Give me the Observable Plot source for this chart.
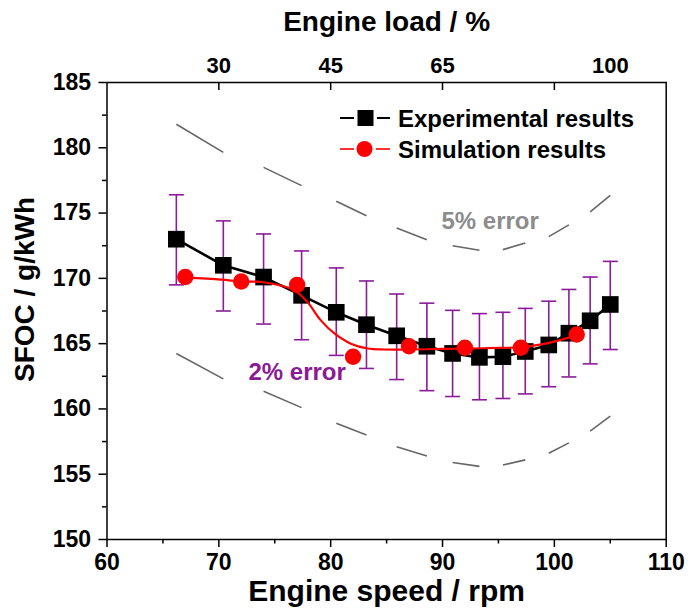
<!DOCTYPE html>
<html><head><meta charset="utf-8">
<script src="https://cdn.jsdelivr.net/npm/d3@7"></script>
<script src="https://cdn.jsdelivr.net/npm/@observablehq/plot@0.6"></script>
<style>body{margin:0;background:#fff} #chart svg{display:block}</style>
</head><body><div id="chart"></div>
<script>
// ---- data ----
const expSpeed   = [66.2, 70.4, 74.0, 77.4, 80.5, 83.2, 85.9, 88.6, 90.9, 93.3, 95.4, 97.4, 99.5, 101.3, 103.2, 105.0];
const expSFOC    = [173.0, 171.0, 170.1, 168.7, 167.4, 166.45, 165.6, 164.8, 164.25, 163.95, 164.0, 164.4, 164.9, 165.8, 166.75, 168.0];
const expErrLow  = [169.5, 167.5, 166.5, 165.3, 164.1, 163.1, 162.25, 161.4, 160.95, 160.7, 160.8, 161.15, 161.7, 162.45, 163.45, 164.55];
const expErrHigh = [176.4, 174.4, 173.4, 172.1, 170.8, 169.8, 168.8, 168.1, 167.55, 167.3, 167.4, 167.7, 168.25, 169.15, 170.1, 171.3];

const simSpeed = [67, 72, 77, 82, 87, 92, 97, 102];
const simSFOC  = [170.1, 169.76, 169.5, 164.0, 164.8, 164.68, 164.68, 165.7];

const simFitSpeed = [67, 70.2, 72, 74, 76.7, 77.9, 79.1, 80.3, 81.8, 83.3, 84.8, 87, 90, 92, 95, 97, 99.7, 102];
const simFitSFOC  = [170.05, 169.9, 169.76, 169.7, 169.1, 168.2, 166.8, 165.8, 165.0, 164.63, 164.55, 164.55, 164.6, 164.62, 164.68, 164.72, 165.1, 165.65];

const band5Upper = [181.8, 179.65, 178.5, 177.1, 175.9, 174.8, 173.85, 172.95, 172.5, 172.15, 172.2, 172.7, 173.2, 174.1, 175.1, 176.35];
const band5Lower = [164.25, 162.3, 161.35, 160.1, 158.9, 158.0, 157.1, 156.4, 155.9, 155.6, 155.7, 156.1, 156.6, 157.4, 158.3, 159.45];

const xTicks = [60, 70, 80, 90, 100, 110];
const xMinorTicks = [65, 75, 85, 95, 105];
const yTicks = [150, 155, 160, 165, 170, 175, 180, 185];
const yMinorTicks = [152.5, 157.5, 162.5, 167.5, 172.5, 177.5, 182.5];

const loadTickSpeeds = [70, 80, 90, 100];
const loadLabelSpeeds = [70, 80, 90, 105];
const loadLabels = ["30", "45", "65", "100"];

const noteText  = ["5% error", "2% error"];
const noteSpeed = [94.26, 77.0];
const noteSFOC  = [174.38, 162.81];
const noteColor = ["#8c8c8c", "#8a1a96"];

const legendLabels = ["Experimental results", "Simulation results"];

// ---- build tables ----
const exp = expSpeed.map((x, i) => ({x, y: expSFOC[i], lo: expErrLow[i], hi: expErrHigh[i]}));
const sim = simSpeed.map((x, i) => ({x, y: simSFOC[i]}));
const fit = simFitSpeed.map((x, i) => ({x, y: simFitSFOC[i]}));
const bandSegs = expSpeed.slice(0, -1).map((x, i) => ({
  x1: x, x2: expSpeed[i + 1],
  u1: band5Upper[i], u2: band5Upper[i + 1],
  l1: band5Lower[i], l2: band5Lower[i + 1]
})).filter((d, i) => i % 2 === 0);
const notes = noteText.map((t, i) => ({t, x: noteSpeed[i], y: noteSFOC[i], c: noteColor[i]}));
const loadLabelMap = new Map(loadLabelSpeeds.map((s, i) => [s, loadLabels[i]]));

const purple = "#8a1c99";
const FONT = "'Liberation Sans', Arial, Helvetica, sans-serif";
const capSymbol = {draw(ctx, size) { const w = Math.sqrt(size / Math.PI); ctx.moveTo(-w, 0); ctx.lineTo(w, 0); }};

const W = 688, H = 611, mL = 106.5, mR = 22.3, mT = 82, mB = 72;
const frameH = H - mT - mB;

const chart = Plot.plot({
  width: W, height: H,
  marginLeft: mL, marginRight: mR, marginTop: mT, marginBottom: mB,
  style: {fontFamily: FONT, fontWeight: "bold", fontSize: "23px", color: "black", background: "white"},
  x: {domain: [60, 110], label: null},
  y: {domain: [150, 185], label: null},
  marks: [
    // 5% bands (dashes are alternate segments)
    Plot.link(bandSegs, {x1: "x1", y1: "u1", x2: "x2", y2: "u2", stroke: "#666666", strokeWidth: 1.6}),
    Plot.link(bandSegs, {x1: "x1", y1: "l1", x2: "x2", y2: "l2", stroke: "#666666", strokeWidth: 1.6}),
    // error bars
    Plot.ruleX(exp, {x: "x", y1: "lo", y2: "hi", stroke: purple, strokeWidth: 1.6}),
    Plot.dot(exp, {x: "x", y: "lo", symbol: capSymbol, r: 7.5, stroke: purple, strokeWidth: 1.6, fill: "none"}),
    Plot.dot(exp, {x: "x", y: "hi", symbol: capSymbol, r: 7.5, stroke: purple, strokeWidth: 1.6, fill: "none"}),
    // experimental
    Plot.line(exp, {x: "x", y: "y", stroke: "black", strokeWidth: 2.6}),
    Plot.dot(exp, {x: "x", y: "y", symbol: "square", r: 9.4, fill: "black", stroke: "none"}),
    // simulation
    Plot.line(fit, {x: "x", y: "y", stroke: "#ff0000", strokeWidth: 2.2, curve: "catmull-rom"}),
    Plot.dot(sim, {x: "x", y: "y", r: 8.2, fill: "#ff0000", stroke: "none"}),
    // annotations
    Plot.text(notes, {x: "x", y: "y", text: "t", fill: "c", fontSize: 24, fontWeight: "bold", textAnchor: "middle"}),
    // axes
    Plot.axisX({ticks: xTicks, tickSize: 8, tickPadding: 6, fontSize: 23, fontWeight: "bold", strokeWidth: 1.5, label: null}),
    Plot.axisX({ticks: xMinorTicks, tickSize: 4.5, tickFormat: () => "", strokeWidth: 1.5, label: null}),
    Plot.axisY({ticks: yTicks, tickSize: 8, tickPadding: 8, fontSize: 23, fontWeight: "bold", strokeWidth: 1.5, label: null}),
    Plot.axisY({ticks: yMinorTicks, tickSize: 4.5, tickFormat: () => "", strokeWidth: 1.5, label: null}),
    Plot.axisX({anchor: "top", ticks: loadLabelSpeeds, tickSize: 0, tickPadding: 10, tickFormat: d => loadLabelMap.get(d), fontSize: 22, fontWeight: "bold", label: null}),
    Plot.tickX(loadTickSpeeds, {x: d => d, insetBottom: frameH - 8, stroke: "black", strokeWidth: 1.5}),
    // titles
    Plot.text(["Engine speed / rpm"], {frameAnchor: "bottom", lineAnchor: "bottom", textAnchor: "middle", dy: 61, text: d => d, fontSize: 30, fontWeight: "bold"}),
    Plot.text(["Engine load / %"], {frameAnchor: "top", lineAnchor: "bottom", textAnchor: "middle", dy: -52, text: d => d, fontSize: 28, fontWeight: "bold"}),
    Plot.text(["SFOC / g/kWh"], {frameAnchor: "left", lineAnchor: "bottom", textAnchor: "middle", rotate: -90, dx: -73.5, dy: -21.5, text: d => d, fontSize: 28, fontWeight: "bold"}),
    Plot.frame({stroke: "black", strokeWidth: 1.5})
  ]
});

// legend inside the plot (top right)
const svg = d3.select(chart);
const lg = svg.append("g").attr("font-family", FONT).attr("font-weight", "bold").attr("font-size", 24).attr("text-anchor", "start");
const rows = [118, 149];
// row 1: experimental  (-■-)
[[340, 354], [377, 390]].forEach(([a, b]) =>
  lg.append("line").attr("x1", a).attr("x2", b).attr("y1", rows[0]).attr("y2", rows[0]).attr("stroke", "black").attr("stroke-width", 2));
lg.append("rect").attr("x", 357.5).attr("y", rows[0] - 8).attr("width", 16).attr("height", 16).attr("fill", "black");
// row 2: simulation  (-●-)
[[340, 354], [376, 390]].forEach(([a, b]) =>
  lg.append("line").attr("x1", a).attr("x2", b).attr("y1", rows[1]).attr("y2", rows[1]).attr("stroke", "#ff0000").attr("stroke-width", 1.6));
lg.append("circle").attr("cx", 364.5).attr("cy", rows[1]).attr("r", 8).attr("fill", "#ff0000");
legendLabels.forEach((t, i) => {
  lg.append("text").attr("x", 398).attr("y", rows[i]).attr("dy", "0.36em").attr("fill", "black").attr("text-anchor", "start").text(t);
});

document.getElementById("chart").appendChild(chart);
</script></body></html>
